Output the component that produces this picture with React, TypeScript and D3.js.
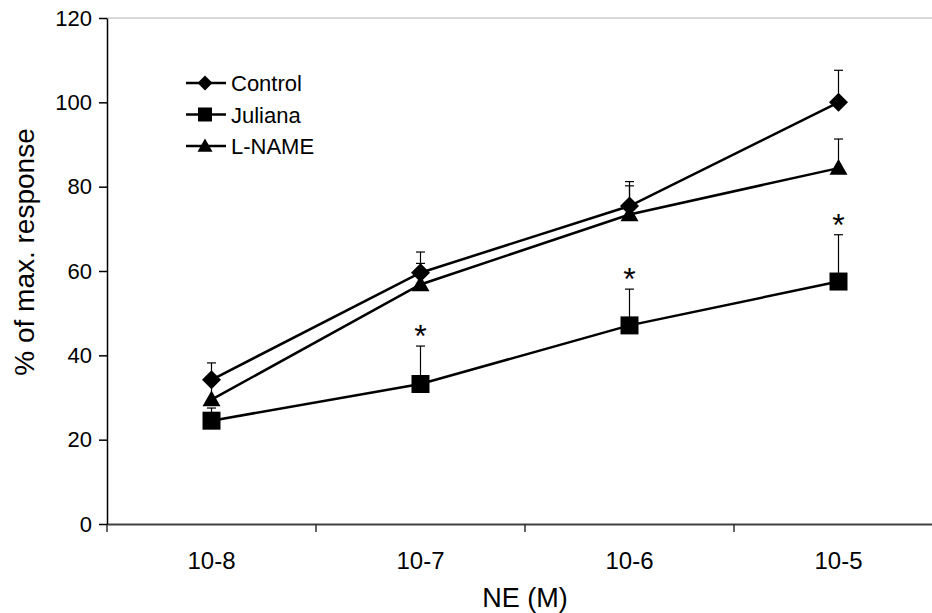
import { useEffect, useRef } from 'react';
import { axisLeft, axisBottom, scaleBand, scaleLinear, select, line } from 'd3';

// dose categories (NE concentration, M)
const categories = ['10-8', '10-7', '10-6', '10-5'];
const yTicks = [0, 20, 40, 60, 80, 100, 120];

// mean % of max response per dose
const control = [34.2, 59.6, 75.4, 100];
const juliana = [24.5, 33.2, 47.1, 57.5];
const lname = [29.5, 56.8, 73.4, 84.4];

// upper error (SEM)
const controlErr = [4, 4.9, 5.8, 7.6];
const julianaErr = [3, 9, 8.6, 11.1];
const lnameErr = [4, 5, 6.8, 6.9];

// significance marks for Juliana vs control
const julianaStars = [false, true, true, true];

const seriesNames = ['Control', 'Juliana', 'L-NAME'];

const FONT = 'Arial, "Liberation Sans", sans-serif';

// marker shapes, r = half size
const diamond = (r) => `M0,${-r}L${r},0L0,${r}L${-r},0Z`;
const square = (r) => `M${-r},${-r}H${r}V${r}H${-r}Z`;
const triangle = (r) => `M0,${-r}L${r},${r * 0.75}L${-r},${r * 0.75}Z`;

const App = () => {
  const svgRef = useRef(null);

  useEffect(() => {
    document.body.style.margin = '0';
    const svg = select(svgRef.current);
    svg.selectAll('*').remove();

    const margin = { top: 18, left: 107, bottom: 89 };
    const width = 932;
    const height = 613;

    const x = scaleBand().domain(categories).range([margin.left, margin.left + 4 * 209]).padding(0);
    const y = scaleLinear().domain([0, 120]).range([height - margin.bottom, margin.top]);

    // light border at top of plot area
    svg
      .append('line')
      .attr('x1', margin.left)
      .attr('x2', width)
      .attr('y1', y(120))
      .attr('y2', y(120))
      .attr('stroke', '#b0b0b0')
      .attr('stroke-width', 1);

    // x axis
    const gx = svg
      .append('g')
      .attr('transform', `translate(0,${y(0)})`)
      .call(axisBottom(x).tickSize(0).tickFormat(() => ''));
    gx.select('.domain').attr('stroke', '#404040').attr('stroke-width', 2);
    gx.selectAll('.tick').remove();
    // ticks at band boundaries
    categories.forEach((c) => {
      gx.append('line')
        .attr('x1', x(c))
        .attr('x2', x(c))
        .attr('y1', 0)
        .attr('y2', 8)
        .attr('stroke', '#303030')
        .attr('stroke-width', 1.5);
      gx.append('text')
        .attr('x', x(c) + x.bandwidth() / 2)
        .attr('y', 45)
        .attr('text-anchor', 'middle')
        .attr('font-family', FONT)
        .attr('font-size', 24)
        .attr('fill', '#000')
        .text(c);
    });

    // y axis
    const gy = svg
      .append('g')
      .attr('transform', `translate(${margin.left},0)`)
      .call(axisLeft(y).tickValues(yTicks).tickSize(8).tickPadding(7).tickSizeOuter(0));
    gy.select('.domain').attr('stroke', '#000').attr('stroke-width', 1.5);
    gy.selectAll('.tick line').attr('stroke', '#000').attr('stroke-width', 1.5);
    gy.selectAll('.tick text')
      .attr('font-family', FONT)
      .attr('font-size', 22)
      .attr('fill', '#000');

    // axis titles
    svg
      .append('text')
      .attr('transform', 'translate(34,252) rotate(-90)')
      .attr('text-anchor', 'middle')
      .attr('font-family', FONT)
      .attr('font-size', 28)
      .text('% of max. response');
    svg
      .append('text')
      .attr('x', (x.range()[0] + x.range()[1]) / 2)
      .attr('y', 607)
      .attr('text-anchor', 'middle')
      .attr('font-family', FONT)
      .attr('font-size', 27)
      .text('NE (M)');

    const cx = (i) => x(categories[i]) + x.bandwidth() / 2;
    const series = [
      { name: seriesNames[0], vals: control, err: controlErr, sym: diamond(9.5), legendSym: diamond(7.5) },
      { name: seriesNames[1], vals: juliana, err: julianaErr, sym: square(9), legendSym: square(7) },
      { name: seriesNames[2], vals: lname, err: lnameErr, sym: triangle(9), legendSym: triangle(7.5) },
    ];

    const lineGen = line()
      .x((d, i) => cx(i))
      .y((d) => y(d));

    // error bars (upper only)
    series.forEach((s) => {
      s.vals.forEach((v, i) => {
        const top = y(v + s.err[i]);
        svg.append('line')
          .attr('x1', cx(i)).attr('x2', cx(i))
          .attr('y1', y(v)).attr('y2', top)
          .attr('stroke', '#000').attr('stroke-width', 1.2);
        svg.append('line')
          .attr('x1', cx(i) - 4.5).attr('x2', cx(i) + 4.5)
          .attr('y1', top).attr('y2', top)
          .attr('stroke', '#000').attr('stroke-width', 1.2);
      });
    });

    // lines + markers
    series.forEach((s) => {
      svg.append('path')
        .datum(s.vals)
        .attr('fill', 'none')
        .attr('stroke', '#000')
        .attr('stroke-width', 2.5)
        .attr('d', lineGen);
      svg.append('g')
        .selectAll('path')
        .data(s.vals)
        .enter()
        .append('path')
        .attr('transform', (d, i) => `translate(${cx(i)},${y(d)})`)
        .attr('d', s.sym)
        .attr('fill', '#000');
    });

    // significance stars
    julianaStars.forEach((sig, i) => {
      if (!sig) return;
      svg.append('text')
        .attr('x', cx(i))
        .attr('y', y(juliana[i] + julianaErr[i]) + 1)
        .attr('text-anchor', 'middle')
        .attr('font-family', FONT)
        .attr('font-size', 32)
        .text('*');
    });

    // legend
    const lg = svg.append('g').attr('transform', 'translate(186,83)');
    series.forEach((s, i) => {
      const row = lg.append('g').attr('transform', `translate(0,${i * 31.5})`);
      row.append('line').attr('x1', 0).attr('x2', 40).attr('y1', 0).attr('y2', 0)
        .attr('stroke', '#000').attr('stroke-width', 2.5);
      row.append('path').attr('transform', 'translate(19,0)').attr('d', s.legendSym).attr('fill', '#000');
      row.append('text')
        .attr('x', 45)
        .attr('y', 8)
        .attr('font-family', FONT)
        .attr('font-size', 22)
        .text(s.name);
    });
  }, []);

  return (
    <div style={{ position: 'absolute', left: 0, top: 0 }}>
      <svg ref={svgRef} width={932} height={613} style={{ display: 'block', background: '#fff' }} />
    </div>
  );
};

export default App;
